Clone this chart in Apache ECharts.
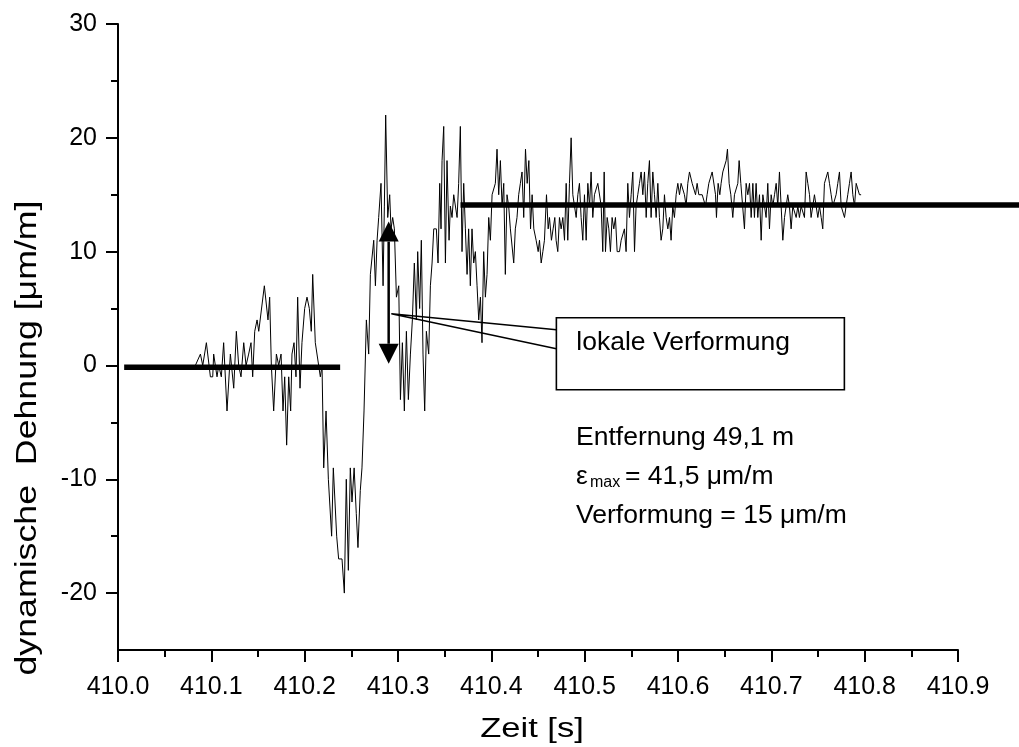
<!DOCTYPE html>
<html><head><meta charset="utf-8">
<script src="https://cdn.jsdelivr.net/npm/echarts@6/dist/echarts.min.js"></script>
<style>html,body{margin:0;padding:0;background:#fff}#c{width:1019px;height:747px}</style>
</head><body><div id="c"></div>
<script>
// ---- data ----
const xTicks = [410.0, 410.9, 0.1];           // min, max, step
const yMajorTicks = [-20, -10, 0, 10, 20, 30];
const yMinorTicks = [-15, -5, 5, 15, 25];
const yRange = [-25, 30];
// dynamic strain signal [time s, strain um/m]
const signal = [
[410.0829,0],[410.0883,1],[410.0908,0],[410.0947,2],[410.0990,-1],[410.1015,-1],[410.1025,1],[410.1061,-1],[410.1079,0],[410.1107,-1],
[410.1132,2],[410.1150,2],[410.1168,-4],[410.1204,1],[410.1240,-2],[410.1268,3],[410.1293,0],[410.1318,-1],[410.1347,2],[410.1372,0],
[410.1400,1],[410.1425,2],[410.1443,-1],[410.1465,3],[410.1490,4],[410.1508,3],[410.1525,3],[410.1568,7],[410.1586,7],[410.1607,4],
[410.1625,6],[410.1643,0],[410.1668,-4],[410.1697,1],[410.1722,0],[410.1747,1],[410.1768,-4],[410.1786,-1],[410.1807,-7],[410.1829,-1],
[410.1850,-4],[410.1864,1],[410.1886,2],[410.1907,-1],[410.1925,6],[410.1950,-2],[410.1971,2],[410.2000,5],[410.2025,6],[410.2050,5],
[410.2071,3],[410.2086,8],[410.2114,2],[410.2132,2],[410.2168,-1],[410.2186,0],[410.2204,-9],[410.2229,-4],[410.2254,-10],[410.2271,-10],
[410.2289,-15],[410.2307,-9],[410.2325,-9],[410.2343,-15],[410.2364,-17],[410.2400,-17],[410.2425,-20],[410.2446,-10],[410.2468,-18],[410.2489,-9],
[410.2507,-12],[410.2530,-9],[410.2553,-13],[410.2571,-16],[410.2596,-11],[410.2614,-9],[410.2636,-4],
[410.2661,4],[410.2686,1],[410.2704,8],[410.2740,11],[410.2758,7],[410.2776,11],[410.2793,13],[410.2818,16],[410.2840,7],[410.2854,14],
[410.2868,22],[410.2890,13],[410.2911,15],[410.2925,12],[410.2943,13],[410.2961,12],[410.2983,6],[410.3008,7],[410.3026,-3],[410.3047,2],
[410.3068,-4],[410.3090,3],[410.3111,-3],[410.3133,1],[410.3154,4],[410.3175,9],[410.3197,4],[410.3211,10],[410.3232,5],[410.3250,11],
[410.3268,1],[410.3286,-4],[410.3304,3],[410.3329,1],[410.3347,7],[410.3365,9],[410.3383,12],[410.3411,12],[410.3429,9],[410.3447,16],
[410.3461,12],[410.3472,18],[410.3490,21],[410.3508,9],[410.3525,18],[410.3547,11],[410.3561,14],[410.3579,13],[410.3597,15],[410.3615,15],
[410.3633,13],[410.3650,16],[410.3668,21],[410.3686,10],[410.3704,16],[410.3722,12],[410.3740,8],[410.3757,12],[410.3775,7],[410.3793,12],
[410.3811,9],[410.3829,10],[410.3847,7],[410.3865,4],[410.3883,6],[410.3900,2],[410.3918,10],[410.3936,6],[410.3954,8],[410.3972,13],
[410.3990,11],[410.4008,15],[410.4025,15],[410.4043,16],[410.4061,19],[410.4079,15],[410.4097,18],[410.4115,14],[410.4133,16],[410.4150,8],
[410.4168,15],[410.4186,14],[410.4204,12],[410.4222,12],[410.4240,9],[410.4257,12],[410.4275,13],[410.4293,15],[410.4311,16],[410.4329,17],
[410.4347,13],
[410.4366,19],[410.4384,16],[410.4402,18],[410.4420,12],[410.4437,15],[410.4455,12],[410.4480,11],[410.4502,10],[410.4516,11],[410.4534,9],
[410.4552,10],[410.4569,11],[410.4591,15],[410.4609,12],[410.4623,13],[410.4644,11],[410.4662,12],[410.4680,13],[410.4694,11],[410.4712,10],
[410.4730,13],[410.4748,12],[410.4766,13],[410.4784,11],[410.4802,16],[410.4819,11],[410.4837,16],[410.4855,20],[410.4873,15],[410.4891,15],
[410.4909,13],[410.4927,15],[410.4944,16],[410.4962,13],[410.4980,11],[410.4998,15],[410.5016,11],[410.5034,16],[410.5052,14],[410.5069,17],
[410.5087,13],[410.5105,15],[410.5123,15],[410.5141,16],[410.5159,16],[410.5177,14],[410.5194,10],[410.5209,17],[410.5223,10],[410.5241,13],
[410.5259,12],[410.5276,10],[410.5294,13],[410.5312,12],[410.5330,13],[410.5348,10],[410.5373,10],[410.5391,11],[410.5409,11],[410.5426,12],
[410.5444,10],[410.5462,16],[410.5480,13],[410.5498,15],[410.5516,17],[410.5534,10],[410.5551,14],[410.5569,15],[410.5587,16],[410.5605,17],
[410.5623,15],[410.5641,17],[410.5659,13],[410.5676,16],[410.5694,18],[410.5712,13],[410.5730,17],[410.5748,15],[410.5766,13],[410.5784,16],
[410.5801,13],[410.5819,11],[410.5837,12],[410.5855,15],[410.5873,13],[410.5891,12],[410.5909,13],[410.5926,11],[410.5944,14],[410.5962,13],
[410.5980,15],[410.5998,16],[410.6016,15],[410.6033,16],[410.6051,16],[410.6069,15],[410.6087,14],[410.6105,16],[410.6123,17],
[410.6152,16],[410.6170,16],[410.6188,15],[410.6205,16],[410.6223,15],[410.6241,15],[410.6259,15],[410.6277,15],[410.6295,14],[410.6312,15],
[410.6330,16],[410.6348,16],[410.6366,17],[410.6384,17],[410.6402,15],[410.6412,13],[410.6430,16],[410.6448,15],[410.6462,16],[410.6480,17],
[410.6498,17],[410.6516,18],[410.6530,19],[410.6548,16],[410.6566,15],[410.6587,13],[410.6605,15],[410.6623,15],[410.6641,16],[410.6655,18],
[410.6673,16],[410.6691,16],[410.6712,12],[410.6730,16],[410.6748,15],[410.6766,16],[410.6784,13],[410.6802,16],[410.6819,13],[410.6837,16],
[410.6855,13],[410.6873,15],[410.6891,11],[410.6909,15],[410.6927,14],[410.6944,13],[410.6962,16],[410.6980,12],[410.6998,15],[410.7016,14],
[410.7034,15],[410.7052,16],[410.7069,14],[410.7087,17],[410.7105,14],[410.7123,11],[410.7141,13],[410.7159,14],[410.7176,15],[410.7194,14],
[410.7212,12],[410.7230,14],[410.7248,14],[410.7266,13],[410.7284,14],[410.7301,13],[410.7319,14],[410.7337,14],[410.7355,13],[410.7373,17],
[410.7391,16],[410.7409,15],[410.7426,13],[410.7444,14],[410.7462,15],[410.7480,14],[410.7498,13],[410.7516,14],[410.7534,13],[410.7551,12],
[410.7569,16],[410.7587,16],[410.7605,17],[410.7623,16],[410.7641,15],[410.7659,14],[410.7676,14],[410.7694,15],[410.7712,16],[410.7730,17],
[410.7748,14],[410.7766,14],[410.7784,13],[410.7801,14],[410.7819,15],[410.7837,16],[410.7855,17],[410.7873,15],[410.7891,14],[410.7909,16],
[410.7926,16],[410.7944,15],[410.7962,15]
];
// mean levels before / after the event: [start time, end time, strain]
const levels      = [[410.0066, 410.238, -0.15], [410.367, 410.975, 14.1]];
const arrowSpan   = [[410.29, 0.15, 12.64]];   // x, lower tip, upper tip
const calloutTip  = [[410.2929, 4.54]];
const calloutText = 'lokale Verformung';
const infoLines   = ['Entfernung 49,1 m', 'ε', 'max', '= 41,5 μm/m', 'Verformung = 15 μm/m'];
const xName = 'Zeit [s]';
const yName = 'dynamische  Dehnung [μm/m]';

// ---- chart ----
const FONT = "'Liberation Sans', Arial, Helvetica, sans-serif";
const chart = echarts.init(document.getElementById('c'));
const axisLine = {show: true, onZero: false, lineStyle: {color: '#000', width: 2}};
chart.setOption({
  animation: false,
  backgroundColor: '#fff',
  grid: {left: 118, right: 61, top: 24, bottom: 97},
  xAxis: {
    type: 'value', min: xTicks[0], max: xTicks[1], interval: xTicks[2],
    axisLine: axisLine,
    axisTick: {show: true, inside: false, length: 12, lineStyle: {color: '#000', width: 2}},
    minorTick: {show: true, splitNumber: 2, length: 7, lineStyle: {color: '#000', width: 2}},
    axisLabel: {margin: 25, fontSize: 25, color: '#000', fontFamily: FONT, formatter: v => v.toFixed(1)},
    splitLine: {show: false}, minorSplitLine: {show: false}
  },
  yAxis: [{
    type: 'value', min: yRange[0], max: yRange[1],
    axisLine: axisLine,
    axisTick: {show: true, length: 12, customValues: yMajorTicks, lineStyle: {color: '#000', width: 2}},
    axisLabel: {customValues: yMajorTicks, margin: 21, fontSize: 25, color: '#000', fontFamily: FONT},
    splitLine: {show: false}
  }, {
    type: 'value', min: yRange[0], max: yRange[1], position: 'left', offset: 0,
    axisLine: {show: false},
    axisTick: {show: true, length: 7, customValues: yMinorTicks, lineStyle: {color: '#000', width: 2}},
    axisLabel: {show: false}, splitLine: {show: false}
  }],
  series: [
    {type: 'line', data: signal, showSymbol: false, symbol: 'none', z: 2,
     lineStyle: {color: '#000', width: 1}},
    {type: 'custom', data: levels, z: 3, clip: false, encode: {x: [0, 1], y: 2},
     renderItem: (params, api) => {
       const a = api.coord([api.value(0), api.value(2)]);
       const b = api.coord([api.value(1), api.value(2)]);
       return {type: 'line', shape: {x1: a[0], y1: a[1], x2: b[0], y2: b[1]},
               style: {stroke: '#000', lineWidth: 5.5}};
     }},
    {type: 'custom', data: arrowSpan, z: 4, encode: {x: 0, y: [1, 2]},
     renderItem: (params, api) => {
       const lo = api.coord([api.value(0), api.value(1)]);
       const hi = api.coord([api.value(0), api.value(2)]);
       const h = 20, w = 10;
       return {type: 'group', children: [
         {type: 'line', shape: {x1: lo[0], y1: lo[1] - h, x2: hi[0], y2: hi[1] + h}, style: {stroke: '#000', lineWidth: 2.5}},
         {type: 'polygon', shape: {points: [[hi[0], hi[1]], [hi[0] - w, hi[1] + h], [hi[0] + w, hi[1] + h]]}, style: {fill: '#000'}},
         {type: 'polygon', shape: {points: [[lo[0], lo[1]], [lo[0] - w, lo[1] - h], [lo[0] + w, lo[1] - h]]}, style: {fill: '#000'}}
       ]};
     }},
    {type: 'custom', data: calloutTip, z: 5, encode: {x: 0, y: 1},
     renderItem: (params, api) => {
       const p = api.coord([api.value(0), api.value(1)]);
       const L = p[0] + 165, R = p[0] + 453, T = p[1] + 4, B = p[1] + 76;
       return {type: 'group', children: [
         {type: 'polyline', shape: {points: [[L, p[1] + 16], p, [L, p[1] + 35]]}, style: {stroke: '#000', lineWidth: 1.6, fill: null}},
         {type: 'rect', shape: {x: L, y: T, width: R - L, height: B - T}, style: {stroke: '#000', lineWidth: 1.6, fill: '#fff'}},
         {type: 'text', x: p[0] + 185, y: p[1] + 29, style: {text: calloutText, fontSize: 26.5, fontFamily: FONT, fill: '#000', align: 'left', verticalAlign: 'middle'}}
       ]};
     }}
  ],
  graphic: {elements: [
    {type: 'text', x: 28, y: 438, rotation: Math.PI / 2, scaleX: 1.19,
     style: {text: yName, fontSize: 30, fontFamily: FONT, fill: '#000', align: 'center', verticalAlign: 'middle'}},
    {type: 'text', x: 532, y: 730, scaleX: 1.28,
     style: {text: xName, fontSize: 27, fontFamily: FONT, fill: '#000', align: 'center', verticalAlign: 'middle'}},
    {type: 'text', x: 576, y: 438, style: {text: infoLines[0], fontSize: 26.5, fontFamily: FONT, fill: '#000', align: 'left', verticalAlign: 'middle'}},
    {type: 'text', x: 576, y: 477, style: {text: infoLines[1], fontSize: 26.5, fontFamily: FONT, fill: '#000', align: 'left', verticalAlign: 'middle'}},
    {type: 'text', x: 590, y: 483, style: {text: infoLines[2], fontSize: 16, fontFamily: FONT, fill: '#000', align: 'left', verticalAlign: 'middle'}},
    {type: 'text', x: 625, y: 477, style: {text: infoLines[3], fontSize: 26.5, fontFamily: FONT, fill: '#000', align: 'left', verticalAlign: 'middle'}},
    {type: 'text', x: 576, y: 516, style: {text: infoLines[4], fontSize: 26.5, fontFamily: FONT, fill: '#000', align: 'left', verticalAlign: 'middle'}}
  ]}
});
</script></body></html>
